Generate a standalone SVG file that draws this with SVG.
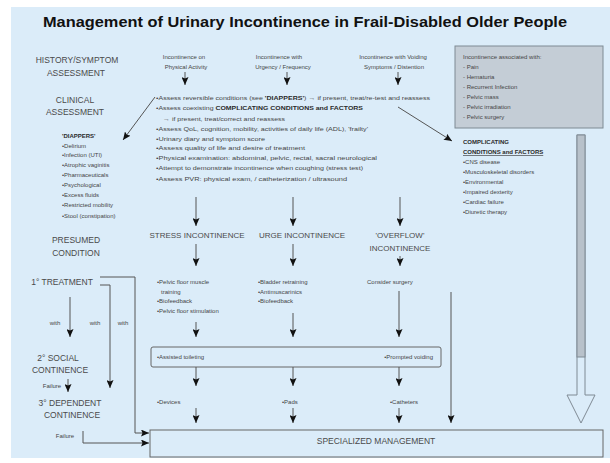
<svg xmlns="http://www.w3.org/2000/svg" width="610" height="463" viewBox="0 0 610 463">
<style>
text{font-family:"Liberation Sans",Arial,sans-serif;fill:#454545}
.t{font-size:15px;font-weight:bold;fill:#111}
.lab{font-size:8.5px;text-anchor:middle;fill:#4a4a4a}
.dx{font-size:8px;text-anchor:middle;fill:#4a4a4a}
.s{font-size:6px}
.sc{font-size:6px;text-anchor:middle}
.b{font-weight:bold;fill:#2a2a2a}
.ln{fill:none;stroke:#555;stroke-width:1}
.ar{fill:none;stroke:#555;stroke-width:1;marker-end:url(#ah)}
</style>
<defs>
<marker id="ah" markerUnits="userSpaceOnUse" markerWidth="9" markerHeight="7" refX="8" refY="3.5" orient="auto">
<path d="M0,0 L8,3.5 L0,7 L1.5,3.5 z" fill="#111"/>
</marker>
</defs>
<rect x="11" y="7" width="599" height="451" fill="#dbecf9"/>
<text class="t" x="305" y="27" text-anchor="middle" textLength="524" lengthAdjust="spacingAndGlyphs">Management of Urinary Incontinence in Frail-Disabled Older People</text>

<g id="left-labels">
<text class="lab" x="77" y="63">HISTORY/SYMPTOM</text>
<text class="lab" x="76" y="76">ASSESSMENT</text>
<text class="lab" x="75" y="103">CLINICAL</text>
<text class="lab" x="75" y="115">ASSESSMENT</text>
<text class="lab" x="76" y="243">PRESUMED</text>
<text class="lab" x="76" y="256">CONDITION</text>
</g>

<g id="diappers">
<text class="s b" x="62" y="138">'DIAPPERS'</text>
<text class="s" x="62" y="148">•Delirium</text>
<text class="s" x="62" y="157">•Infection (UTI)</text>
<text class="s" x="62" y="167">•Atrophic vaginitis</text>
<text class="s" x="62" y="177">•Pharmaceuticals</text>
<text class="s" x="62" y="187">•Psychological</text>
<text class="s" x="62" y="197">•Excess fluids</text>
<text class="s" x="62" y="207">•Restricted mobility</text>
<text class="s" x="62" y="218">•Stool (constipation)</text>
</g>

<g id="top-physical"><text class="sc" x="184" y="59">Incontinence on</text><text class="sc" x="186" y="69">Physical Activity</text></g>
<g id="top-urgency"><text class="sc" x="279" y="59">Incontinence with</text><text class="sc" x="283" y="69">Urgency / Frequency</text></g>
<g id="top-voiding"><text class="sc" x="393" y="59">Incontinence with Voiding</text><text class="sc" x="394" y="69">Symptoms / Distention</text></g>

<g id="associated">
<rect x="455" y="46" width="148" height="82" fill="#c4cdd6" stroke="#7f8a94"/>
<text class="s" x="463" y="59">Incontinence associated with:</text>
<text class="s" x="463" y="69">- Pain</text>
<text class="s" x="463" y="79">- Hematuria</text>
<text class="s" x="463" y="89">- Recurrent Infection</text>
<text class="s" x="463" y="99">- Pelvic mass</text>
<text class="s" x="463" y="109">- Pelvic irradiation</text>
<text class="s" x="463" y="119">- Pelvic surgery</text>
</g>

<g id="assessment">
<text class="s" x="156" y="100" textLength="274" lengthAdjust="spacingAndGlyphs">•Assess reversible conditions (see <tspan class="b">'DIAPPERS'</tspan>) → if present, treat/re-test and reassess</text>
<text class="s" x="156" y="110" textLength="207" lengthAdjust="spacingAndGlyphs">•Assess coexisting <tspan class="b">COMPLICATING CONDITIONS and FACTORS</tspan></text>
<text class="s" x="163" y="121" textLength="122" lengthAdjust="spacingAndGlyphs">→ if present, treat/correct and reassess</text>
<text class="s" x="156" y="131" textLength="212" lengthAdjust="spacingAndGlyphs">•Assess QoL, cognition, mobility, activities of daily life (ADL), 'frailty'</text>
<text class="s" x="156" y="141" textLength="109" lengthAdjust="spacingAndGlyphs">•Urinary diary and symptom score</text>
<text class="s" x="156" y="150" textLength="149" lengthAdjust="spacingAndGlyphs">•Assess quality of life and desire of treatment</text>
<text class="s" x="156" y="160" textLength="221" lengthAdjust="spacingAndGlyphs">•Physical examination: abdominal, pelvic, rectal, sacral neurological</text>
<text class="s" x="156" y="170" textLength="207" lengthAdjust="spacingAndGlyphs">•Attempt to demonstrate incontinence when coughing (stress test)</text>
<text class="s" x="156" y="181" textLength="191" lengthAdjust="spacingAndGlyphs">•Assess PVR: physical exam, / catheterization / ultrasound</text>
</g>

<g id="complicating">
<text class="s b" x="463" y="144">COMPLICATING</text>
<text class="s b" x="463" y="154" text-decoration="underline">CONDITIONS and FACTORS</text>
<text class="s" x="463" y="164">•CNS disease</text>
<text class="s" x="463" y="174">•Musculoskeletal disorders</text>
<text class="s" x="463" y="184">•Environmental</text>
<text class="s" x="463" y="194">•Impaired dexterity</text>
<text class="s" x="463" y="204">•Cardiac failure</text>
<text class="s" x="463" y="214">•Diuretic therapy</text>
</g>

<g id="stress"><text class="dx" x="197" y="238">STRESS INCONTINENCE</text></g>
<g id="urge"><text class="dx" x="302" y="238">URGE INCONTINENCE</text></g>
<g id="overflow"><text class="dx" x="400" y="238">'OVERFLOW'</text><text class="dx" x="400" y="251">INCONTINENCE</text></g>

<g id="tx-stress">
<text class="s" x="157" y="284">•Pelvic floor muscle</text>
<text class="s" x="161" y="294">training</text>
<text class="s" x="157" y="303">•Biofeedback</text>
<text class="s" x="157" y="313">•Pelvic floor stimulation</text>
</g>
<g id="tx-urge">
<text class="s" x="258" y="284">•Bladder retraining</text>
<text class="s" x="258" y="294">•Antimuscarinics</text>
<text class="s" x="258" y="303">•Biofeedback</text>
</g>
<g id="tx-overflow"><text class="s" x="367" y="284">Consider surgery</text></g>

<g id="toileting">
<rect x="151" y="347" width="290" height="20" rx="2" fill="none" stroke="#666"/>
<text class="s" x="157" y="359">•Assisted toileting</text>
<text class="s" x="433" y="359" text-anchor="end">•Prompted voiding</text>
</g>

<g id="devices"><text class="s" x="157" y="404">•Devices</text></g>
<g id="pads"><text class="s" x="282" y="404">•Pads</text></g>
<g id="catheters"><text class="s" x="390" y="404">•Catheters</text></g>

<g id="treatment1"><text class="lab" x="62" y="285">1° TREATMENT</text></g>
<g id="social"><text class="lab" x="58" y="361">2° SOCIAL</text><text class="lab" x="60" y="373">CONTINENCE</text></g>
<g id="dependent"><text class="lab" x="70" y="406">3° DEPENDENT</text><text class="lab" x="72" y="418">CONTINENCE</text></g>

<g id="specialized">
<rect x="150" y="430" width="453" height="27" fill="none" stroke="#666"/>
<text class="lab" x="376" y="444">SPECIALIZED MANAGEMENT</text>
</g>

<g id="big-arrow">
<path d="M577,135 L585,135 L585,395 L595,395 L581,423 L567,395 L577,395 z" fill="none" stroke="#7f8a94"/>
<rect x="577" y="135" width="8" height="222" fill="#b8c1ca" stroke="#7f8a94"/>
</g>

<g id="connectors">
<line class="ar" x1="185" y1="72" x2="185" y2="85"/>
<line class="ar" x1="287" y1="72" x2="287" y2="85"/>
<line class="ar" x1="398" y1="72" x2="398" y2="85"/>
<line class="ar" x1="155" y1="97" x2="123" y2="140"/>
<line class="ar" x1="398" y1="107" x2="452" y2="141"/>
<line class="ar" x1="196" y1="197" x2="196" y2="226"/>
<line class="ar" x1="293" y1="197" x2="293" y2="226"/>
<line class="ar" x1="400" y1="197" x2="400" y2="226"/>
<line class="ar" x1="196" y1="244" x2="196" y2="266"/>
<line class="ar" x1="293" y1="244" x2="293" y2="266"/>
<line class="ar" x1="400" y1="256" x2="400" y2="266"/>
<line class="ar" x1="196" y1="322" x2="196" y2="337"/>
<line class="ar" x1="293" y1="313" x2="293" y2="337"/>
<line class="ar" x1="399" y1="291" x2="399" y2="337"/>
<line class="ar" x1="196" y1="367" x2="196" y2="386"/>
<line class="ar" x1="293" y1="367" x2="293" y2="386"/>
<line class="ar" x1="399" y1="367" x2="399" y2="386"/>
<line class="ar" x1="196" y1="408" x2="196" y2="423"/>
<line class="ar" x1="293" y1="408" x2="293" y2="423"/>
<line class="ar" x1="399" y1="408" x2="399" y2="423"/>
<line class="ar" x1="451" y1="292" x2="451" y2="423"/>
<polyline class="ar" points="100,277 135,277 135,433 149,433"/>
<polyline class="ar" points="100,285 110,285 110,388"/>
<line class="ar" x1="70" y1="297" x2="70" y2="337"/>
<line class="ar" x1="68" y1="379" x2="68" y2="392"/>
<polyline class="ar" points="83,431 83,443 149,443"/>
<text class="s" x="55" y="325" text-anchor="middle">with</text>
<text class="s" x="95" y="325" text-anchor="middle">with</text>
<text class="s" x="123" y="325" text-anchor="middle">with</text>
<text class="s" x="52" y="388" text-anchor="middle">Failure</text>
<text class="s" x="65" y="438" text-anchor="middle">Failure</text>
</g>
</svg>
